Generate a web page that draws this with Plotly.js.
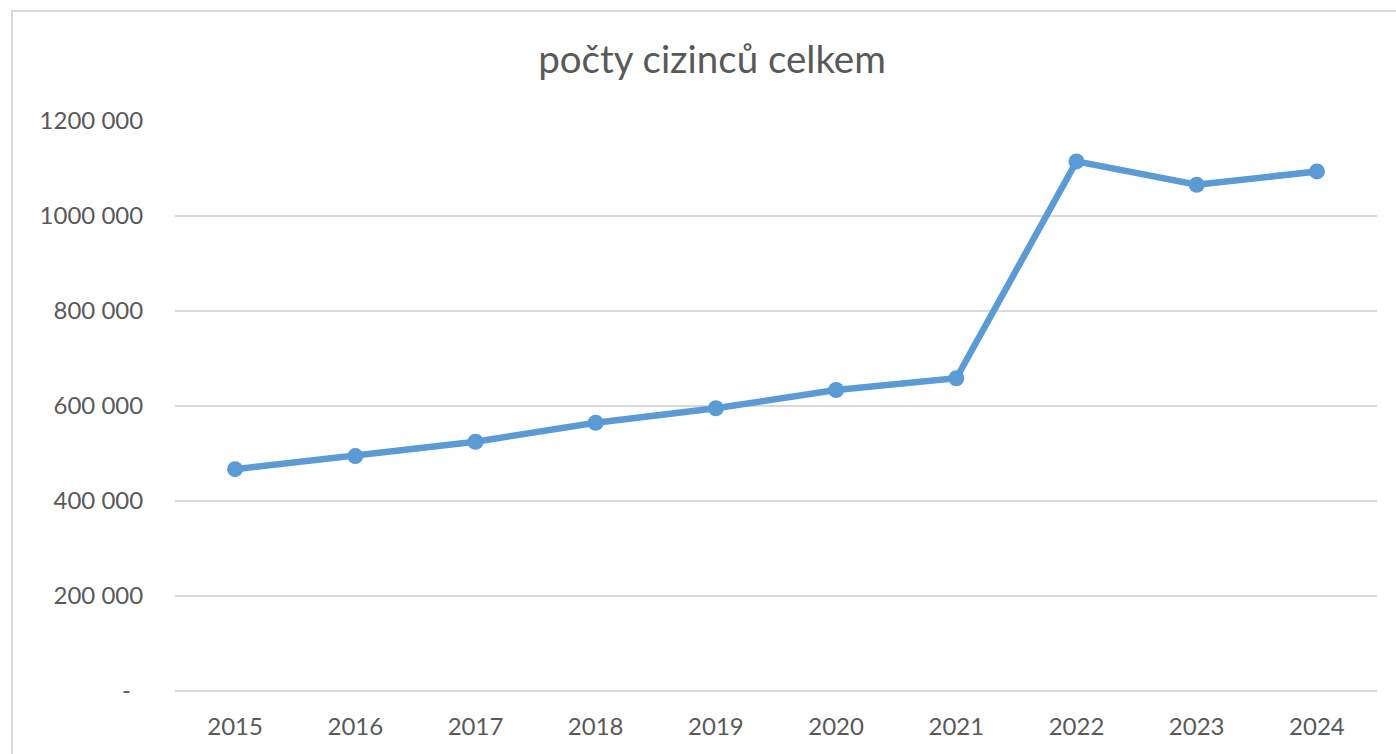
<!DOCTYPE html>
<html>
<head>
<meta charset="utf-8">
<script src="https://cdn.plot.ly/plotly-3.0.1.min.js"></script>
<style>
  html, body { margin: 0; padding: 0; background: #fff; overflow: hidden; }
  #chart { width: 1396px; height: 754px; }
  #frame { position: absolute; left: 11px; top: 10px; width: 1600px; height: 900px;
           border: 2px solid #D9D9D9; pointer-events: none; box-sizing: border-box; }
</style>
</head>
<body>
<div id="chart"></div>
<div id="frame"></div>
<script>
const years = ["2015","2016","2017","2018","2019","2020","2021","2022","2023","2024"];
const foreigners = [467000, 494600, 524800, 564800, 595200, 633700, 658400, 1114900, 1065800, 1093800];
const yTickVals = [0, 200000, 400000, 600000, 800000, 1000000, 1200000];
const yTickText = ["-\u00a0\u00a0", "200 000", "400 000", "600 000", "800 000", "1000 000", "1200 000"];
const chartTitle = "počty cizinců celkem";

const trace = {
  x: years,
  y: foreigners,
  type: "scatter",
  mode: "lines+markers",
  line: { color: "#5B9BD5", width: 6.5 },
  marker: { color: "#5B9BD5", size: 16 },
  hoverinfo: "x+y"
};

const layout = {
  width: 1396,
  height: 754,
  margin: { l: 175, r: 19, t: 121, b: 63, pad: 0 },
  paper_bgcolor: "rgba(0,0,0,0)",
  plot_bgcolor: "rgba(0,0,0,0)",
  showlegend: false,
  font: { family: "Lato, 'Open Sans', sans-serif", color: "#595959", size: 24 },
  title: {
    text: chartTitle,
    font: { family: "Lato, 'Open Sans', sans-serif", size: 38.5, color: "#595959" },
    xref: "container", x: 712 / 1396, xanchor: "center",
    yref: "container", y: 1 - 60 / 754, yanchor: "middle"
  },
  xaxis: {
    type: "category",
    range: [-0.5, 9.5],
    showgrid: false,
    zeroline: false,
    showline: false,
    ticks: "outside",
    ticklen: 14,
    tickcolor: "rgba(0,0,0,0)",
    tickfont: { size: 24, color: "#595959" },
    fixedrange: true
  },
  yaxis: {
    range: [0, 1200000],
    tickvals: yTickVals,
    ticktext: yTickText,
    showgrid: true,
    gridcolor: "#D9D9D9",
    gridwidth: 2,
    zeroline: true,
    zerolinecolor: "#D9D9D9",
    zerolinewidth: 2,
    showline: false,
    ticks: "outside",
    ticklen: 26,
    tickcolor: "rgba(0,0,0,0)",
    tickfont: { size: 24, color: "#595959" },
    fixedrange: true
  }
};

Plotly.newPlot("chart", [trace], layout, { displayModeBar: false });
</script>
</body>
</html>
